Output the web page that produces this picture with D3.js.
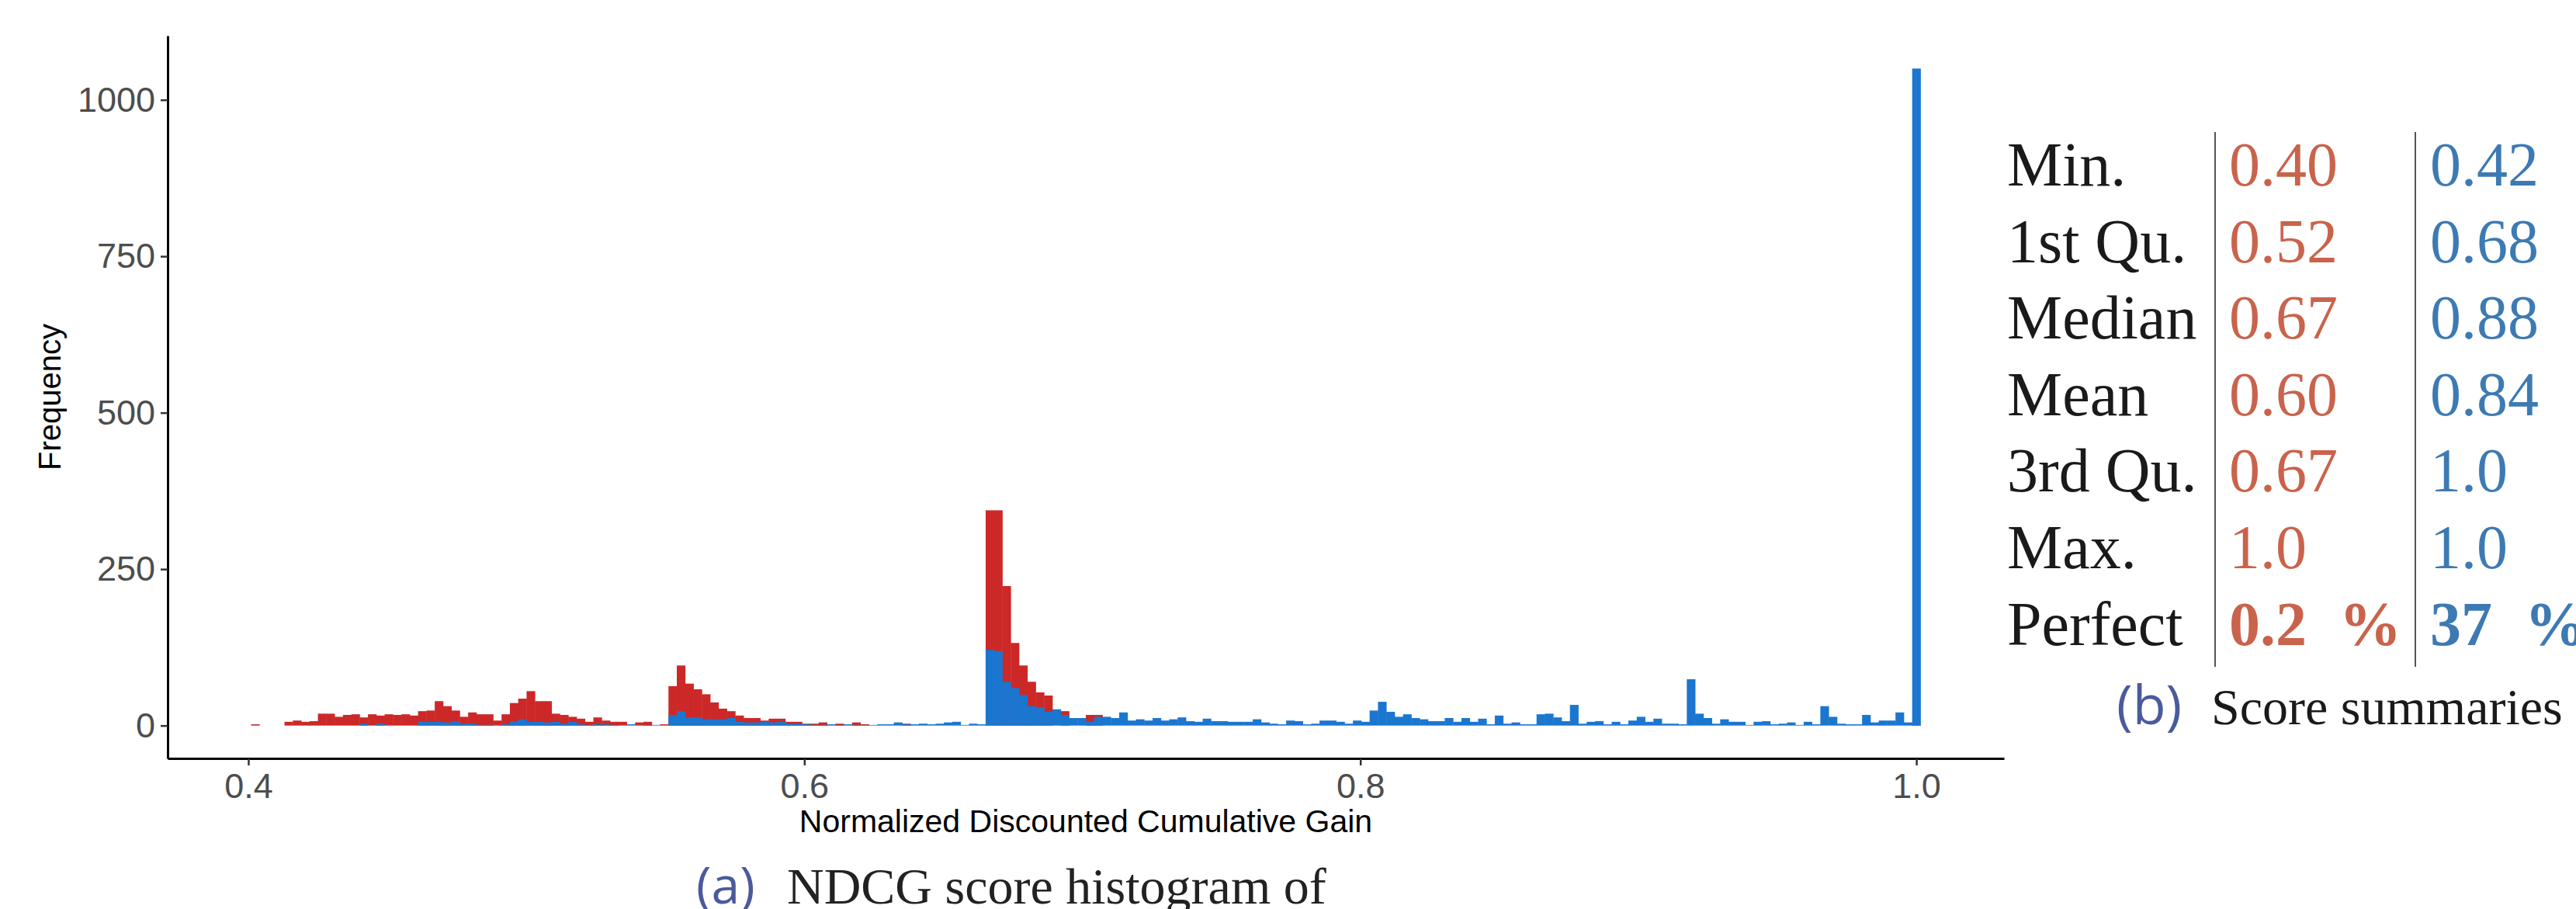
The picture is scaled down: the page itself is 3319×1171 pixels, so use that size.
<!DOCTYPE html>
<html>
<head>
<meta charset="utf-8">
<script src="https://cdn.jsdelivr.net/npm/d3@7"></script>
<style>
  body { margin: 0; background: #ffffff; }
  .tick text { font-family: "Liberation Sans", Arial, sans-serif; fill: #4d4d4d; }
</style>
</head>
<body>
<div class="chart"></div>
<script>
// NDCG Histogram + Score Summary Table

// Histogram Bins (200 Bins Between binStart and binEnd)
var binStart = 0.4010;
var binEnd = 1.0015;

// Counts per Bin - Red Series (Drawn First)
var redCounts = [
  2, 0, 0, 0, 6, 8, 6, 7, 19, 19,
  14, 17, 18, 13, 18, 16, 18, 17, 18, 16,
  23, 24, 39, 31, 24, 14, 21, 18, 18, 8,
  18, 36, 43, 55, 39, 39, 19, 17, 14, 11,
  6, 13, 8, 6, 6, 0, 5, 6, 0, 2,
  63, 96, 67, 58, 50, 37, 27, 23, 16, 12,
  12, 8, 11, 11, 6, 6, 3, 3, 5, 0,
  3, 0, 5, 2, 0, 0, 0, 0, 3, 0,
  0, 0, 0, 0, 0, 0, 0, 0, 344, 344,
  223, 132, 96, 70, 53, 48, 0, 23, 0, 0,
  17, 17, 0, 0, 0, 0, 0, 0, 0, 0,
  0, 0, 0, 0, 0, 0, 0, 0, 0, 0,
  0, 0, 0, 0, 0, 0, 0, 0, 0, 0,
  0, 0, 0, 0, 0, 0, 0, 0, 0, 0,
  0, 0, 0, 0, 0, 0, 0, 0, 0, 0,
  0, 0, 0, 0, 0, 0, 0, 0, 0, 0,
  0, 0, 0, 0, 0, 0, 0, 0, 0, 0,
  0, 0, 0, 0, 0, 0, 0, 0, 0, 0,
  0, 0, 0, 0, 0, 0, 0, 0, 0, 0,
  0, 0, 0, 0, 0, 0, 0, 0, 0, 1
];

// Counts per Bin - Blue Series (Drawn on Top)
var blueCounts = [
  0, 0, 0, 0, 0, 0, 0, 0, 0, 0,
  0, 0, 0, 3, 0, 3, 0, 0, 0, 0,
  6, 6, 6, 5, 7, 3, 3, 1, 1, 0,
  2, 7, 10, 6, 6, 5, 6, 3, 6, 2,
  1, 2, 2, 1, 0, 2, 0, 1, 1, 0,
  17, 23, 13, 13, 10, 10, 10, 12, 6, 5,
  5, 6, 5, 6, 3, 3, 2, 1, 1, 2,
  1, 2, 1, 1, 1, 2, 2, 5, 2, 2,
  3, 2, 3, 5, 6, 1, 3, 2, 121, 119,
  70, 60, 49, 31, 29, 22, 26, 17, 12, 12,
  6, 14, 14, 12, 21, 8, 10, 8, 12, 8,
  10, 13, 7, 6, 11, 7, 7, 6, 6, 6,
  10, 5, 3, 2, 8, 7, 2, 3, 8, 8,
  6, 3, 8, 6, 24, 38, 22, 14, 18, 12,
  10, 7, 7, 12, 6, 12, 6, 11, 2, 16,
  3, 5, 2, 2, 18, 19, 13, 7, 33, 3,
  6, 7, 2, 6, 2, 8, 14, 6, 11, 3,
  3, 2, 74, 19, 12, 3, 10, 6, 6, 1,
  6, 7, 2, 3, 5, 1, 6, 2, 31, 14,
  3, 2, 2, 17, 5, 8, 8, 21, 5, 1050
];

// Axis Ticks
var xTicks = [0.4, 0.6, 0.8, 1.0];
var yTicks = [0, 250, 500, 750, 1000];

// Summary Table
var rowLabels = ["Min.", "1st Qu.", "Median", "Mean", "3rd Qu.", "Max.", "Perfect"];
var redSummary = ["0.40", "0.52", "0.67", "0.60", "0.67", "1.0", "0.2 %"];
var blueSummary = ["0.42", "0.68", "0.88", "0.84", "1.0", "1.0", "37 %"];

// Setup Chart Parameters/Dimensions
var svgWidth = 3319;
var svgHeight = 1171;

var margin = {
  top: 46,
  right: 737,
  bottom: 194,
  left: 216
};

var width = svgWidth - margin.left - margin.right;
var height = svgHeight - margin.top - margin.bottom;

var redColor = "#cc2828";
var blueColor = "#1b76cf";

var svg = d3.select(".chart")
  .append("svg")
  .attr("width", svgWidth)
  .attr("height", svgHeight)
  .style("display", "block");

svg.append("rect")
  .attr("width", svgWidth)
  .attr("height", svgHeight)
  .attr("fill", "#ffffff");

var chartGroup = svg.append("g")
  .attr("transform", `translate(${margin.left}, ${margin.top})`);

// Bin Data
var nBins = redCounts.length;
var binWidth = (binEnd - binStart) / nBins;
var bins = d3.range(nBins).map(function(i) {
  return {
    x0: binStart + i * binWidth,
    x1: binStart + (i + 1) * binWidth,
    red: redCounts[i],
    blue: blueCounts[i]
  };
});

// Scales (5% Expansion Like ggplot)
var xPad = (binEnd - binStart) * 0.05;
var xLinearScale = d3.scaleLinear()
  .domain([binStart - xPad, binEnd + xPad])
  .range([0, width]);

var yMax = d3.max(bins, d => Math.max(d.red, d.blue));
var yLinearScale = d3.scaleLinear()
  .domain([-yMax * 0.05, yMax * 1.05])
  .range([height, 0]);

// Bars - Red First, Blue Overlaid (position = identity)
chartGroup.selectAll(".redBar")
  .data(bins.filter(d => d.red > 0))
  .enter()
  .append("rect")
  .attr("class", "redBar")
  .attr("x", d => xLinearScale(d.x0))
  .attr("width", d => xLinearScale(d.x1) - xLinearScale(d.x0) + 0.4)
  .attr("y", d => yLinearScale(d.red))
  .attr("height", d => yLinearScale(0) - yLinearScale(d.red))
  .attr("fill", redColor);

chartGroup.selectAll(".blueBar")
  .data(bins.filter(d => d.blue > 0))
  .enter()
  .append("rect")
  .attr("class", "blueBar")
  .attr("x", d => xLinearScale(d.x0))
  .attr("width", d => xLinearScale(d.x1) - xLinearScale(d.x0) + 0.4)
  .attr("y", d => yLinearScale(d.blue))
  .attr("height", d => yLinearScale(0) - yLinearScale(d.blue))
  .attr("fill", blueColor);

// Axes
var bottomAxis = d3.axisBottom(xLinearScale)
  .tickValues(xTicks)
  .tickFormat(d3.format(".1f"))
  .tickSizeInner(9)
  .tickSizeOuter(0)
  .tickPadding(10);

var leftAxis = d3.axisLeft(yLinearScale)
  .tickValues(yTicks)
  .tickFormat(d3.format("d"))
  .tickSizeInner(9)
  .tickSizeOuter(0)
  .tickPadding(7);

var xAxis = chartGroup.append("g")
  .attr("transform", `translate(0, ${height})`)
  .call(bottomAxis);

var yAxis = chartGroup.append("g")
  .call(leftAxis);

[xAxis, yAxis].forEach(function(ax) {
  ax.select(".domain").attr("stroke", "#000000").attr("stroke-width", 3);
  ax.selectAll(".tick line").attr("stroke", "#333333").attr("stroke-width", 2.5);
  ax.selectAll(".tick text").attr("font-size", 45);
});

// Axis Titles
chartGroup.append("text")
  .attr("x", width / 2)
  .attr("y", height + 95)
  .attr("text-anchor", "middle")
  .attr("font-family", "Liberation Sans, Arial, sans-serif")
  .attr("font-size", 41)
  .attr("fill", "#000000")
  .text("Normalized Discounted Cumulative Gain");

chartGroup.append("text")
  .attr("transform", `translate(${78 - margin.left}, ${height / 2}) rotate(-90)`)
  .attr("text-anchor", "middle")
  .attr("font-family", "Liberation Sans, Arial, sans-serif")
  .attr("font-size", 40)
  .attr("fill", "#000000")
  .text("Frequency");

// Caption (a), Sitting on the Bottom Edge
var captionColor = "#4a5a9c";
svg.append("text")
  .attr("x", 897)
  .attr("y", 1164)
  .attr("font-family", "Open Sans, Lato, sans-serif")
  .attr("font-size", 66)
  .attr("fill", captionColor)
  .text("(a)");
svg.append("text")
  .attr("x", 1014)
  .attr("y", 1164)
  .attr("font-family", "Liberation Serif, serif")
  .attr("font-size", 66)
  .attr("fill", "#222222")
  .text("NDCG score histogram of");

// Summary Table
var tableGroup = svg.append("g");
var rowTop = 239;
var rowStep = 98.6;
var colLabel = 2586;
var colRed = 2872;
var colBlue = 3131;
var lastRow = rowLabels.length - 1;

tableGroup.selectAll(".rowLabel")
  .data(rowLabels)
  .enter()
  .append("text")
  .attr("x", colLabel)
  .attr("y", (d, i) => rowTop + i * rowStep)
  .attr("font-family", "Liberation Serif, serif")
  .attr("font-size", 80)
  .attr("fill", "#1a1a1a")
  .text(d => d);

tableGroup.selectAll(".redValue")
  .data(redSummary)
  .enter()
  .append("text")
  .attr("x", colRed)
  .attr("y", (d, i) => rowTop + i * rowStep)
  .attr("font-family", "Liberation Serif, serif")
  .attr("font-size", 80)
  .attr("font-weight", (d, i) => i === lastRow ? "bold" : "normal")
  .attr("word-spacing", (d, i) => i === lastRow ? 22 : 0)
  .attr("fill", "#c9634b")
  .text(d => d);

tableGroup.selectAll(".blueValue")
  .data(blueSummary)
  .enter()
  .append("text")
  .attr("x", colBlue)
  .attr("y", (d, i) => rowTop + i * rowStep)
  .attr("font-family", "Liberation Serif, serif")
  .attr("font-size", 80)
  .attr("font-weight", (d, i) => i === lastRow ? "bold" : "normal")
  .attr("word-spacing", (d, i) => i === lastRow ? 22 : 0)
  .attr("fill", "#3d7ab3")
  .text(d => d);

// Column Separators
[2854, 3112].forEach(function(x) {
  tableGroup.append("line")
    .attr("x1", x).attr("x2", x)
    .attr("y1", 170).attr("y2", 859)
    .attr("stroke", "#555555")
    .attr("stroke-width", 2);
});

// Caption (b)
svg.append("text")
  .attr("x", 2727)
  .attr("y", 933)
  .attr("font-family", "Open Sans, Lato, sans-serif")
  .attr("font-size", 70)
  .attr("fill", captionColor)
  .text("(b)");
svg.append("text")
  .attr("x", 2849)
  .attr("y", 933)
  .attr("font-family", "Liberation Serif, serif")
  .attr("font-size", 66)
  .attr("fill", "#1a1a1a")
  .text("Score summaries");
</script>
</body>
</html>
